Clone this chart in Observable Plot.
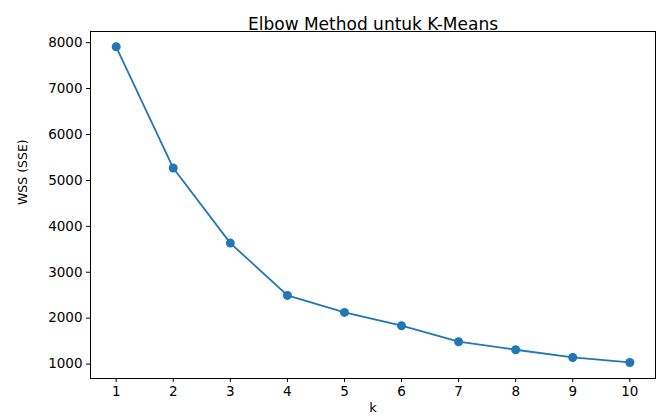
<!DOCTYPE html>
<html>
<head>
<meta charset="utf-8">
<script src="https://cdn.jsdelivr.net/npm/d3@7"></script>
<script src="https://cdn.jsdelivr.net/npm/@observablehq/plot@0.6"></script>
<style>
  html, body { margin: 0; padding: 0; background: #fff; }
  #chart svg { display: block; }
</style>
</head>
<body>
<div id="chart"></div>
<script>
const kValues = [1, 2, 3, 4, 5, 6, 7, 8, 9, 10];
const wssValues = [7910, 5270, 3635, 2495, 2125, 1835, 1487, 1312, 1144, 1035];
const yTicks = [1000, 2000, 3000, 4000, 5000, 6000, 7000, 8000];
const titleText = "Elbow Method untuk K-Means";
const xLabel = "k";
const yLabel = "WSS (SSE)";

const data = kValues.map((k, i) => ({k, wss: wssValues[i]}));
const color = "#1f77b4";

const chart = Plot.plot({
  width: 661,
  height: 416,
  marginLeft: 90,
  marginRight: 6,
  marginTop: 31,
  marginBottom: 38,
  style: {fontFamily: "DejaVu Sans", fontSize: "13px", color: "#000", background: "#fff"},
  x: {domain: [0.55, 10.45]},
  y: {domain: [686, 8243]},
  marks: [
    Plot.frame({stroke: "#000", strokeWidth: 1}),
    Plot.axisX(kValues, {tickSize: 4, tickPadding: 4, label: null, fontSize: 13.5, letterSpacing: 0.4, fill: "#000"}),
    Plot.axisY(yTicks, {tickSize: 4, tickPadding: 4, tickFormat: d => String(d), label: null, fontSize: 13.5, letterSpacing: 0.6, fill: "#000"}),
    Plot.text([xLabel], {frameAnchor: "bottom", dy: 33, fontSize: 13, fill: "#000"}),
    Plot.text([yLabel], {frameAnchor: "left", dx: -68, rotate: -90, fontSize: 12.5, letterSpacing: 0.3, fill: "#000"}),
    Plot.line(data, {x: "k", y: "wss", stroke: color, strokeWidth: 1.8}),
    Plot.dot(data, {x: "k", y: "wss", fill: color, r: 4.5, stroke: "none"}),
    Plot.text([titleText], {frameAnchor: "top", dy: -14, fontSize: 17, letterSpacing: 0.4, fill: "#000"})
  ]
});
document.getElementById("chart").appendChild(chart);
</script>
</body>
</html>
